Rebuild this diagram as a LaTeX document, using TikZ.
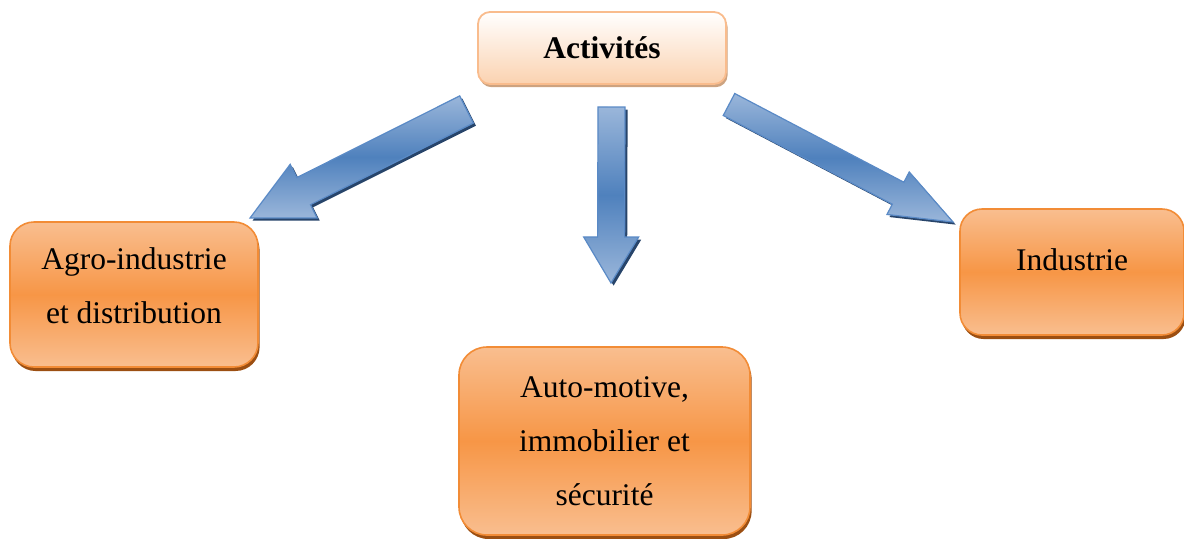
\documentclass[tikz,border=0pt]{standalone}
\usepackage{fontspec}
\setmainfont{Liberation Serif}
\usetikzlibrary{calc,shadows}

\definecolor{orMain}{HTML}{F79646}
\definecolor{orLight}{HTML}{F9BE8F}
\definecolor{orLine}{HTML}{F28C36}
\definecolor{orShadow}{HTML}{9C4F12}
\definecolor{peach}{HTML}{FBD2B0}
\definecolor{peachLine}{HTML}{F9BC8D}
\definecolor{peachShadow}{HTML}{CDA380}
\definecolor{blLight}{HTML}{9AB6DA}
\definecolor{blMain}{HTML}{4F81BD}
\definecolor{blLine}{HTML}{5A8AC6}
\definecolor{blShadow}{HTML}{27446A}

\tikzset{
  txt/.style={font=\fontsize{15.75}{27}\selectfont, align=center},
  topbox/.style={txt, font=\fontsize{15.75}{27}\selectfont\bfseries,
    rounded corners=6pt, draw=peachLine, line width=0.9pt,
    top color=white, bottom color=peach,
    drop shadow={shadow xshift=0.8pt, shadow yshift=-1.6pt, fill=peachShadow, opacity=1},
    minimum width=124pt, minimum height=36pt, inner sep=0pt},
  catbox/.style={txt, draw=orLine, line width=0.8pt,
    top color=orLight, bottom color=orLight, middle color=orMain,
    drop shadow={shadow xshift=0.8pt, shadow yshift=-2pt, fill=orShadow, opacity=1},
    inner sep=0pt},
  arrowbody/.style={draw=blLine, line width=0.6pt, line join=miter,
    top color=blLight, bottom color=blLight, middle color=blMain},
  arrowshade/.style={fill=blShadow}
}

% block arrow from #1 to #2: half shaft width #3, half head width #4, head length #5
\newcommand\blockarrow[5]{%
  \path ($(#2)!#5!(#1)$) coordinate (bh);
  \path ($(#1)!#3!90:(#2)$) coordinate (p1)
        ($(bh)!#3!90:(#2)$) coordinate (p2)
        ($(bh)!#4!90:(#2)$) coordinate (p3)
        ($(bh)!#4!-90:(#2)$) coordinate (p4)
        ($(bh)!#3!-90:(#2)$) coordinate (p5)
        ($(#1)!#3!-90:(#2)$) coordinate (p6);
  \fill[arrowshade, transform canvas={xshift=1.3pt, yshift=-1.3pt}]
    (p1) -- (p2) -- (p3) -- (#2) -- (p4) -- (p5) -- (p6) -- cycle;
  \draw[arrowbody]
    (p1) -- (p2) -- (p3) -- (#2) -- (p4) -- (p5) -- (p6) -- cycle;
}

\begin{document}
\begin{tikzpicture}[x=0.5pt, y=-0.5pt]
  \useasboundingbox (0,0) rectangle (1184,538);

  % boxes
  \node[topbox] (act) at (602,48) {Activités};
  \node[catbox, rounded corners=12pt, minimum width=124pt, minimum height=72.5pt]
    (agro) at (134,294.5) {Agro-industrie\\et distribution\rule[-9pt]{0pt}{9pt}};
  \node[catbox, rounded corners=11pt, minimum width=112pt, minimum height=63pt,
        text height=7pt, text depth=9pt]
    (ind) at (1072,272) {Industrie};
  \node[catbox, rounded corners=14pt, minimum width=145.5pt, minimum height=94pt]
    (auto) at (604.5,441) {Auto-motive,\\immobilier et\\sécurité};

  % arrow end points
  \coordinate (aL0) at (466.5,109.5);
  \coordinate (aL1) at (250,218);
  \coordinate (aD0) at (611.5,107);
  \coordinate (aD1) at (611,283);
  \coordinate (aR0) at (729,104.5);
  \coordinate (aR1) at (953,222);

  \blockarrow{aL0}{aL1}{7.6pt}{15pt}{30pt}
  \blockarrow{aD0}{aD1}{6.75pt}{13.75pt}{23pt}
  \blockarrow{aR0}{aR1}{6.2pt}{12pt}{31pt}
\end{tikzpicture}
\end{document}
